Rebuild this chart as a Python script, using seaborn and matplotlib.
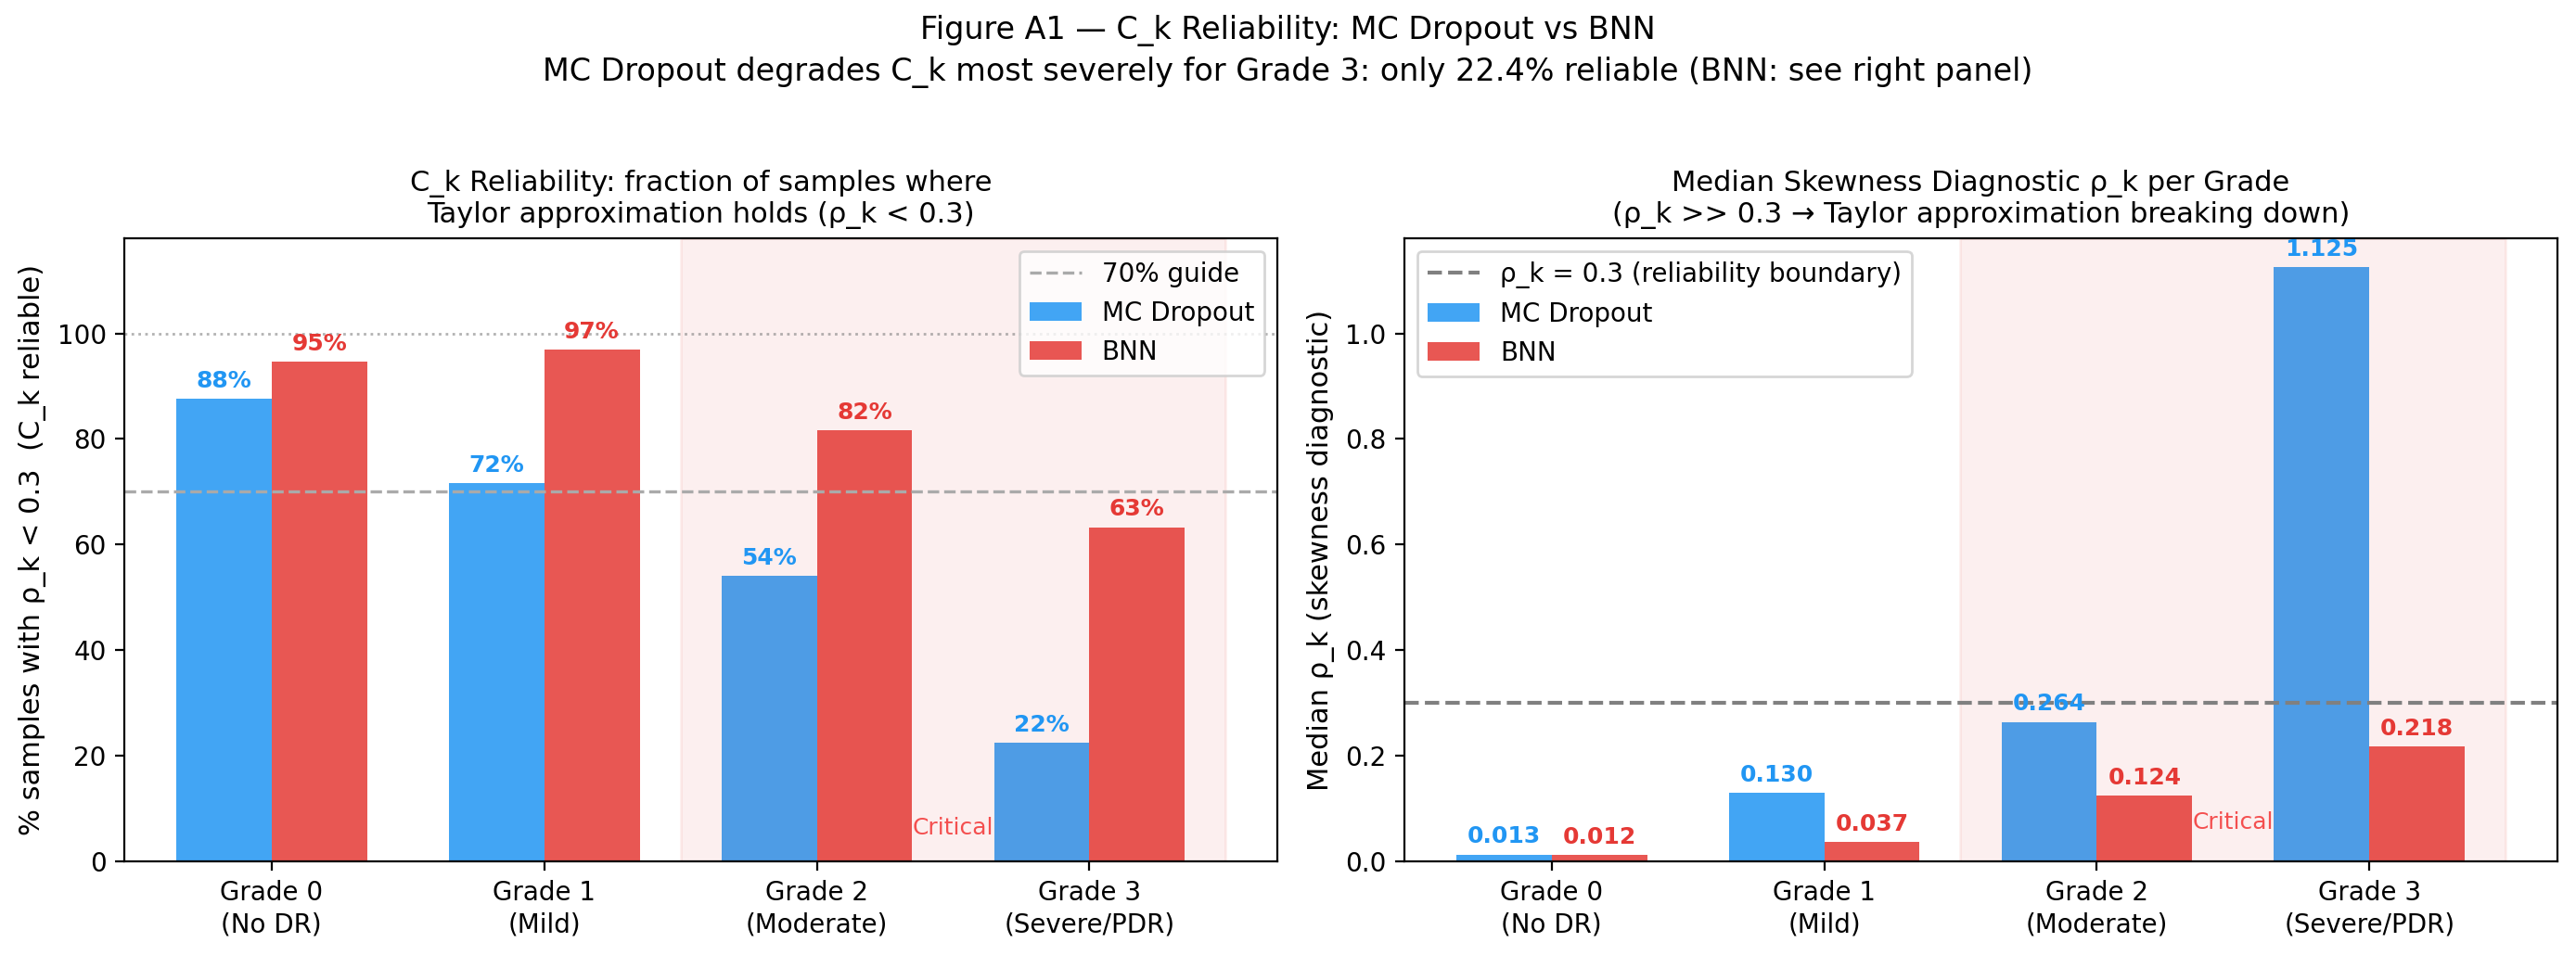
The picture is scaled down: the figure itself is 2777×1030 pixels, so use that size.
import pandas as pd
import matplotlib
matplotlib.use("Agg")
import matplotlib.pyplot as plt
import seaborn as sns
from matplotlib.patches import Patch
from matplotlib.lines import Line2D


grades = ["Grade 0\n(No DR)", "Grade 1\n(Mild)", "Grade 2\n(Moderate)", "Grade 3\n(Severe/PDR)"]
methods = ["MC Dropout", "BNN"]
mc_reliable_pct = [87.6, 71.6, 54.1, 22.4]
bnn_reliable_pct = [94.6, 96.9, 81.6, 63.3]
mc_median_rho = [0.013, 0.130, 0.264, 1.125]
bnn_median_rho = [0.012, 0.037, 0.124, 0.218]

colors = {"MC Dropout": "#2196F3", "BNN": "#E53935"}
shade_color = "#E53935"


def long_frame(mc, bnn) -> pd.DataFrame:
	rows = []
	for g, v in zip(grades, mc):
		rows.append({"grade": g, "method": "MC Dropout", "value": v})
	for g, v in zip(grades, bnn):
		rows.append({"grade": g, "method": "BNN", "value": v})
	return pd.DataFrame(rows)


def draw_bars(ax, df) -> None:
	sns.barplot(
		data=df,
		x="grade",
		y="value",
		hue="method",
		order=grades,
		hue_order=methods,
		palette=colors,
		saturation=1,
		width=0.7,
		gap=0,
		alpha=0.85,
		legend=False,
		ax=ax
	)
	ax.set_xlabel("")


def label_bars(ax, fmt, pad) -> None:
	for container, method in zip(ax.containers, methods):
		labels = [fmt.format(b.get_height()) for b in container]
		ax.bar_label(container, labels=labels, padding=pad, color=colors[method],
			fontsize=9, fontweight="bold")


def finish_axis(ax) -> None:
	ax.tick_params(labelsize=10)
	for t in ax.get_xticklabels():
		t.set_linespacing(1.3)


def left_chart(ax) -> None:
	df = long_frame(mc_reliable_pct, bnn_reliable_pct)
	draw_bars(ax, df)
	label_bars(ax, "{:.0f}%", 2.6)
	ax.axvspan(1.5, 3.5, color=shade_color, alpha=0.08)
	ax.axhline(100, color="gray", linestyle=":", linewidth=1.0, alpha=0.6)
	ax.axhline(70, color="#aaaaaa", linestyle="--", linewidth=1.2)
	ax.set_xlim(-0.54, 3.69)
	ax.set_ylim(0, 118)
	peak = max(mc_reliable_pct + bnn_reliable_pct)
	ax.text(2.5, peak * 0.065, "Critical", ha="center", va="center", fontsize=9, color="#F44F4F")
	ax.set_ylabel("% samples with ρ_k < 0.3  (C_k reliable)", fontsize=11)
	ax.set_title("C_k Reliability: fraction of samples where\nTaylor approximation holds (ρ_k < 0.3)", fontsize=11)
	handles = [
		Line2D([], [], color="#aaaaaa", linestyle="--", linewidth=1.2, label="70% guide"),
		Patch(facecolor=colors["MC Dropout"], alpha=0.85, label="MC Dropout"),
		Patch(facecolor=colors["BNN"], alpha=0.85, label="BNN"),
	]
	ax.legend(handles=handles, loc="upper right", fontsize=10)
	finish_axis(ax)


def right_chart(ax) -> None:
	df = long_frame(mc_median_rho, bnn_median_rho)
	draw_bars(ax, df)
	label_bars(ax, "{:.3f}", 2.6)
	ax.axvspan(1.5, 3.5, color=shade_color, alpha=0.08)
	ax.axhline(0.3, color="gray", linestyle="--", linewidth=1.5)
	ax.set_xlim(-0.54, 3.69)
	ax.set_ylim(0, 1.18)
	peak = max(mc_median_rho + bnn_median_rho)
	ax.text(2.5, peak * 0.065, "Critical", ha="center", va="center", fontsize=9, color="#F44F4F")
	ax.set_ylabel("Median ρ_k (skewness diagnostic)", fontsize=11)
	ax.set_title("Median Skewness Diagnostic ρ_k per Grade\n(ρ_k >> 0.3 → Taylor approximation breaking down)", fontsize=11)
	handles = [
		Line2D([], [], color="gray", linestyle="--", linewidth=1.5, label="ρ_k = 0.3 (reliability boundary)"),
		Patch(facecolor=colors["MC Dropout"], alpha=0.85, label="MC Dropout"),
		Patch(facecolor=colors["BNN"], alpha=0.85, label="BNN"),
	]
	ax.legend(handles=handles, loc="upper left", fontsize=10)
	finish_axis(ax)


def main():
	fig = plt.figure(figsize=(13.885, 5.15), dpi=200)
	ax1 = fig.add_axes([0.0483, 0.098, 0.4476, 0.6525])
	ax2 = fig.add_axes([0.5452, 0.098, 0.4476, 0.6525])
	left_chart(ax1)
	right_chart(ax2)
	fig.suptitle(
		"Figure A1 — C_k Reliability: MC Dropout vs BNN\n"
		"MC Dropout degrades C_k most severely for Grade 3: only 22.4% reliable (BNN: see right panel)",
		fontsize=12, y=0.984, va="top", linespacing=1.4
	)
	fig.savefig("out.png", dpi=200)
	plt.close(fig)


if __name__ == "__main__":
	main()
